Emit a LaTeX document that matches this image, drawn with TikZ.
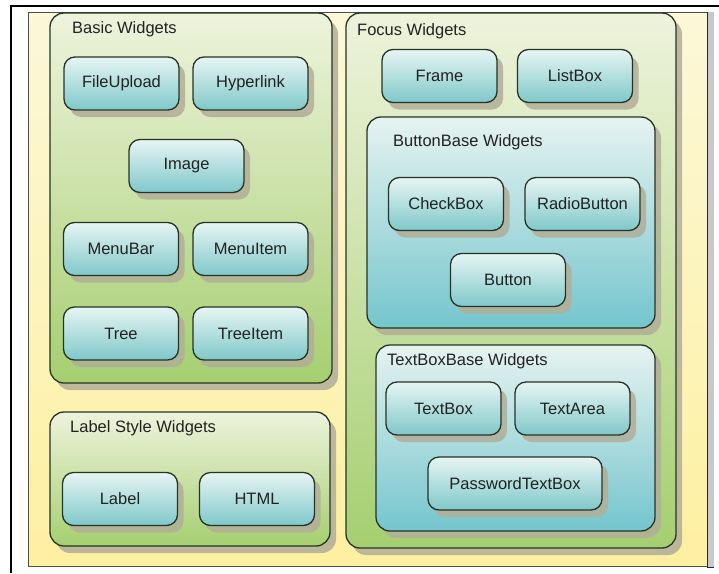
\documentclass[tikz,border=0pt]{standalone}
\usepackage{fontspec}
\setmainfont{Liberation Sans}
\usetikzlibrary{shadows}
\definecolor{tealTop}{HTML}{E6F5F3}
\definecolor{tealBot}{HTML}{80C8CA}
\definecolor{greenTop}{HTML}{EEF3DC}
\definecolor{greenBot}{HTML}{A5CF70}
\definecolor{innerTop}{HTML}{E6F3F0}
\definecolor{innerBot}{HTML}{74C5CD}
\definecolor{panelTop}{HTML}{FCF8D8}
\definecolor{panelBot}{HTML}{FDF0A0}
\definecolor{shadowc}{HTML}{B2AE98}
\definecolor{stripc}{HTML}{C9C9CD}
\definecolor{edge}{HTML}{263326}
\definecolor{txt}{HTML}{222222}
\tikzset{
  base/.style={draw=edge, line width=1.3pt, inner sep=0pt, outer sep=0pt,
    drop shadow={shadow xshift=6pt, shadow yshift=-7pt, fill=shadowc, opacity=0.85}},
  widget/.style={base, rounded corners=11pt, top color=tealTop, bottom color=tealBot,
    minimum width=115pt, minimum height=53pt, font=\fontsize{16.5}{18}\selectfont, text=txt},
  group/.style={base, rounded corners=14pt, top color=greenTop, bottom color=greenBot},
  subgroup/.style={base, rounded corners=14pt, top color=innerTop, bottom color=innerBot},
  title/.style={anchor=west, inner sep=0pt, font=\fontsize{16.5}{18}\selectfont, text=txt}
}
\begin{document}
\begin{tikzpicture}[x=1pt,y=-1pt]
\useasboundingbox (0,0) rectangle (719,573);
\fill[white] (0,0) rectangle (719,573);
% outer frame
\draw[line width=2.2pt] (11,573) -- (11,6) -- (719,6);
% panel
\shade[top color=panelTop, bottom color=panelBot] (28,12) rectangle (707,566);
\fill[stripc] (707,12) rectangle (714,567);
\draw[gray!60!black, line width=0.8pt] (28,12) rectangle (707,566);
\draw[gray!30!black, line width=1pt] (707,12) -- (707,567) -- (714,567);
% groups
\node[group, minimum width=282pt, minimum height=370pt] (basic) at (191,198) {};
\node[group, minimum width=280pt, minimum height=134pt] (labelgrp) at (190,479) {};
\node[group, minimum width=330pt, minimum height=535pt] (focus) at (511,280.5) {};
\node[subgroup, minimum width=288pt, minimum height=211pt] (bbase) at (511,222.5) {};
\node[subgroup, minimum width=279pt, minimum height=186pt] (tbase) at (515.5,438) {};
% titles
\node[title] (tbasic) at (72,29) {Basic Widgets};
\node[title] (tlabel) at (70,428) {Label Style Widgets};
\node[title] (tfocus) at (357,31) {Focus Widgets};
\node[title] (tbbase) at (393,142) {ButtonBase Widgets};
\node[title] (ttbase) at (387,361) {TextBoxBase Widgets};
% widgets
\node[widget] (fileupload) at (121.5,83.5) {FileUpload};
\node[widget] (hyperlink) at (250.5,83.5) {Hyperlink};
\node[widget] (image) at (186.5,166) {Image};
\node[widget] (menubar) at (121,249) {MenuBar};
\node[widget] (menuitem) at (250.5,249) {MenuItem};
\node[widget] (tree) at (121,333.5) {Tree};
\node[widget] (treeitem) at (250.5,333.5) {TreeItem};
\node[widget] (label) at (120,499) {Label};
\node[widget] (html) at (257,499) {HTML};
\node[widget] (frame) at (439.5,76) {Frame};
\node[widget] (listbox) at (575,76) {ListBox};
\node[widget] (checkbox) at (446,204) {CheckBox};
\node[widget] (radiobutton) at (582.5,204) {RadioButton};
\node[widget] (button) at (508,280) {Button};
\node[widget] (textbox) at (443.5,408.5) {TextBox};
\node[widget] (textarea) at (572.5,408.5) {TextArea};
\node[widget, minimum width=174pt] (password) at (515,483.5) {PasswordTextBox};
\end{tikzpicture}
\end{document}
